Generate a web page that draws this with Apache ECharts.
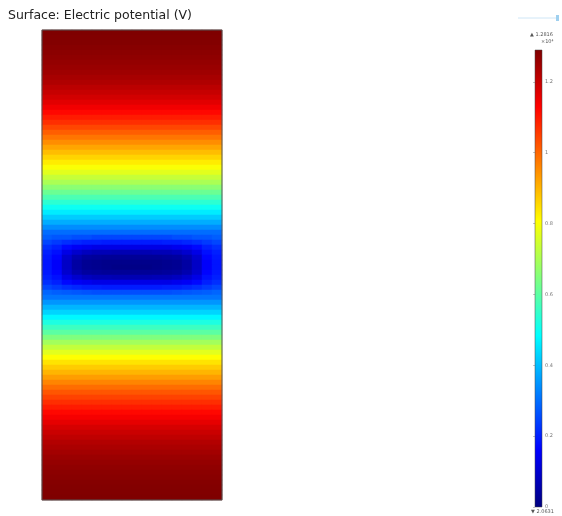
<!DOCTYPE html>
<html>
<head>
<meta charset="utf-8">
<script src="https://cdn.jsdelivr.net/npm/echarts@6/dist/echarts.min.js"></script>
<style>html,body{margin:0;padding:0;background:#fff;}#c{width:562px;height:516px;}</style>
</head>
<body>
<div id="c"></div>
<script>
// Electric potential (×10^4 V).
// Columns: 18 across the domain; rows: 94 from top to bottom.
var colCount = 18;
// Value along each row (the field is uniform across x outside the central dark region)
var rowProfile = [
  1.29, 1.288, 1.285, 1.28, 1.275, 1.27, 1.264, 1.257, 1.25, 1.24,
  1.23, 1.215, 1.20, 1.185, 1.165, 1.145, 1.12, 1.095, 1.07, 1.04,
  1.01, 0.98, 0.95, 0.92, 0.89, 0.86, 0.83, 0.80, 0.77, 0.735,
  0.70, 0.66, 0.62, 0.58, 0.54, 0.50, 0.46, 0.42, 0.38, 0.34,
  0.30, 0.27, 0.235, 0.205, 0.18, 0.165, 0.155, 0.155, 0.165, 0.18,
  0.205, 0.235, 0.27, 0.31, 0.35, 0.39, 0.43, 0.475, 0.52, 0.56,
  0.60, 0.645, 0.69, 0.73, 0.77, 0.805, 0.84, 0.87, 0.90, 0.93,
  0.96, 0.99, 1.02, 1.045, 1.07, 1.095, 1.12, 1.14, 1.16, 1.18,
  1.195, 1.21, 1.225, 1.235, 1.245, 1.255, 1.262, 1.268, 1.274, 1.278,
  1.282, 1.285, 1.288, 1.29
];
// Rows around the low-potential centre, read cell by cell (first row index 41)
var centerStartRow = 41;
var centerRows = [
  [0.28,0.27,0.27,0.26,0.26,0.25,0.25,0.25,0.25,0.25,0.25,0.25,0.25,0.26,0.26,0.27,0.27,0.28],
  [0.25,0.235,0.22,0.21,0.20,0.20,0.195,0.195,0.195,0.195,0.195,0.195,0.20,0.20,0.21,0.22,0.235,0.25],
  [0.22,0.20,0.17,0.15,0.14,0.13,0.13,0.13,0.13,0.13,0.13,0.13,0.13,0.14,0.15,0.17,0.20,0.22],
  [0.20,0.18,0.13,0.10,0.08,0.07,0.07,0.065,0.065,0.065,0.065,0.07,0.07,0.08,0.10,0.13,0.18,0.20],
  [0.19,0.165,0.10,0.06,0.04,0.035,0.03,0.03,0.03,0.03,0.03,0.03,0.035,0.04,0.06,0.10,0.165,0.19],
  [0.185,0.155,0.09,0.045,0.025,0.02,0.015,0.015,0.015,0.015,0.015,0.015,0.02,0.025,0.045,0.09,0.155,0.185],
  [0.185,0.155,0.09,0.045,0.025,0.02,0.015,0.01,0.01,0.01,0.01,0.015,0.02,0.025,0.045,0.09,0.155,0.185],
  [0.19,0.165,0.10,0.06,0.04,0.035,0.03,0.03,0.03,0.03,0.03,0.03,0.035,0.04,0.06,0.10,0.165,0.19],
  [0.20,0.18,0.13,0.10,0.08,0.07,0.07,0.065,0.065,0.065,0.065,0.07,0.07,0.08,0.10,0.13,0.18,0.20],
  [0.22,0.20,0.17,0.15,0.14,0.13,0.13,0.13,0.13,0.13,0.13,0.13,0.13,0.14,0.15,0.17,0.20,0.22],
  [0.25,0.235,0.22,0.21,0.20,0.20,0.195,0.195,0.195,0.195,0.195,0.195,0.20,0.20,0.21,0.22,0.235,0.25],
  [0.29,0.28,0.275,0.27,0.265,0.26,0.26,0.26,0.26,0.26,0.26,0.26,0.26,0.265,0.27,0.275,0.28,0.29]
];
var colorMin = 0;
var colorMax = 1.29;
var colorTicks = ['0', '0.2', '0.4', '0.6', '0.8', '1', '1.2'];
var maxText = '\u25B2 1.2816';
var expText = '\u00D710\u2074';
var minText = '\u25BC 2.0631';
var titleText = 'Surface: Electric potential (V)';

var xCats = [], yCats = [], data = [];
for (var j = 0; j < colCount; j++) xCats.push(String(j));
for (var i = 0; i < rowProfile.length; i++) {
  yCats.push(String(i));
  var cr = centerRows[i - centerStartRow];
  for (var j = 0; j < colCount; j++) {
    data.push([j, i, cr ? cr[j] : rowProfile[i]]);
  }
}
var jet = ['#00007f','#0000ff','#007fff','#00ffff','#7fff7f','#ffff00','#ff7f00','#ff0000','#7f0000'];
var barStops = jet.map(function (c, k) { return {offset: k / (jet.length - 1), color: c}; });

var chart = echarts.init(document.getElementById('c'), null, {renderer: 'canvas'});
chart.setOption({
  animation: false,
  backgroundColor: '#ffffff',
  title: {
    text: titleText, left: 8, top: 9, padding: 0,
    textStyle: {fontFamily: 'DejaVu Sans', fontSize: 12.5, fontWeight: 'normal', color: '#222'}
  },
  grid: [
    {left: 42, top: 30, width: 180, height: 470, show: false},
    {left: 535, top: 50, width: 7, height: 457, show: false}
  ],
  xAxis: [
    {type: 'category', data: xCats, gridIndex: 0, show: false},
    {type: 'value', gridIndex: 1, show: false, min: 0, max: 1}
  ],
  yAxis: [
    {type: 'category', data: yCats, gridIndex: 0, show: false, inverse: true},
    {type: 'value', gridIndex: 1, min: colorMin, max: colorMax, interval: 0.2, position: 'right',
     axisLine: {show: false}, splitLine: {show: false},
     axisTick: {show: true, inside: true, length: 2, lineStyle: {color: '#888', width: 0.5}},
     axisLabel: {show: true, margin: 3, fontSize: 5, color: '#777', fontFamily: 'DejaVu Sans',
       showMaxLabel: false,
       formatter: function (v) { var k = Math.round(v / 0.2); return colorTicks[k] !== undefined ? colorTicks[k] : ''; }}}
  ],
  visualMap: {
    type: 'continuous', seriesIndex: 0, min: colorMin, max: colorMax, show: false,
    inRange: {color: jet}
  },
  series: [{
    type: 'heatmap', xAxisIndex: 0, yAxisIndex: 0, data: data,
    itemStyle: {borderWidth: 0}, progressive: 0, emphasis: {disabled: true}
  }],
  graphic: [
    {type: 'rect', shape: {x: 42, y: 30, width: 180, height: 470}, z: 100,
     style: {fill: 'none', stroke: '#555', lineWidth: 1}},
    {type: 'rect', shape: {x: 535, y: 50, width: 7, height: 457}, z: 90,
     style: {fill: new echarts.graphic.LinearGradient(0, 1, 0, 0, barStops), stroke: '#444', lineWidth: 0.5}},
    {type: 'line', shape: {x1: 518, y1: 18, x2: 556, y2: 18}, z: 100,
     style: {stroke: '#cfe6f6', lineWidth: 1}},
    {type: 'rect', shape: {x: 556, y: 15, width: 3, height: 6}, z: 100,
     style: {fill: '#9fd0ef'}},
    {type: 'text', x: 530, y: 32, z: 100,
     style: {text: maxText, fontSize: 5, fill: '#555', fontFamily: 'DejaVu Sans'}},
    {type: 'text', x: 541, y: 39, z: 100,
     style: {text: expText, fontSize: 5, fill: '#555', fontFamily: 'DejaVu Sans'}},
    {type: 'text', x: 531, y: 509, z: 100,
     style: {text: minText, fontSize: 5, fill: '#555', fontFamily: 'DejaVu Sans'}}
  ]
});
</script>
</body>
</html>
